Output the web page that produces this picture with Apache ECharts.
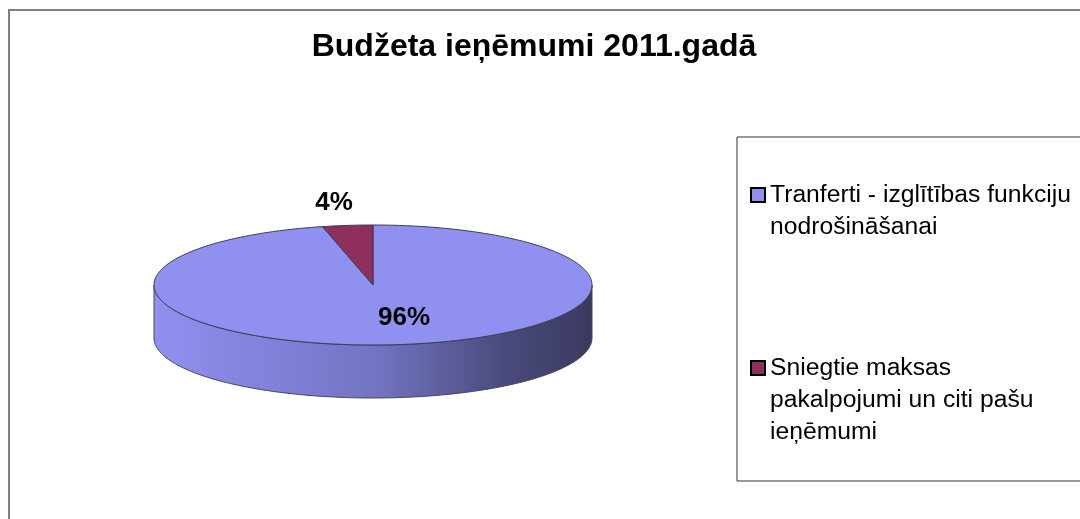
<!DOCTYPE html>
<html>
<head>
<meta charset="utf-8">
<style>
  html, body { margin: 0; padding: 0; background: #fff; }
  #chart { width: 1080px; height: 519px; }
</style>
<script src="https://cdn.jsdelivr.net/npm/echarts@6/dist/echarts.min.js"></script>
</head>
<body>
<div id="chart"></div>
<script>
const titleText = "Budžeta ieņēmumi 2011.gadā";
const sliceNames = [
  "Tranferti - izglītības funkciju nodrošināšanai",
  "Sniegtie maksas pakalpojumi un citi pašu ieņēmumi",
];
const sliceValues = [96.3, 3.7];
const sliceColors = ["#9090F0", "#8E2F5E"];
const legendLines = [
  ["Tranferti - izglītības funkciju", "nodrošināšanai"],
  ["Sniegtie maksas", "pakalpojumi un citi pašu", "ieņēmumi"],
];

const chart = echarts.init(document.getElementById("chart"));

// pie is an ellipse with a wall under it, the library pie can't squash
const pie = { cx: 373, cy: 285, rx: 219, ry: 60, depth: 53 };
const labelPos = [
  { x: 404, y: 318 },
  { x: 334, y: 203 },
];
const total = sliceValues.reduce((a, b) => a + b, 0);

// angle in degrees, clockwise from 12 o'clock
const ellipsePoint = (deg, dy) => {
  const a = (deg * Math.PI) / 180;
  return [pie.cx + pie.rx * Math.sin(a), pie.cy - pie.ry * Math.cos(a) + (dy || 0)];
};
const arc = (from, to, dy) => {
  const pts = [];
  const steps = Math.max(2, Math.ceil(Math.abs(to - from)));
  for (let i = 0; i <= steps; i++) {
    pts.push(ellipsePoint(from + ((to - from) * i) / steps, dy));
  }
  return pts;
};

const renderSlice = (index) => (params, api) => {
  const before = sliceValues.slice(0, index).reduce((a, b) => a + b, 0);
  const start = (before / total) * 360;
  const end = start + (api.value(0) / total) * 360;
  const children = [];
  const wallFrom = Math.max(start, 90);
  const wallTo = Math.min(end, 270);
  if (wallFrom < wallTo) {
    children.push({
      type: "polygon",
      shape: {
        points: arc(wallFrom, wallTo, 0).concat(arc(wallTo, wallFrom, pie.depth)),
      },
      style: {
        fill: new echarts.graphic.LinearGradient(0, 0, 1, 0, [
          { offset: 0, color: "#9090F0" },
          { offset: 0.5, color: "#7474C4" },
          { offset: 0.8, color: "#4A4A7C" },
          { offset: 1, color: "#3A3A60" },
        ]),
        stroke: "#44445C",
        lineWidth: 1,
      },
    });
  }
  children.push({
    type: "polygon",
    shape: { points: [[pie.cx, pie.cy]].concat(arc(start, end, 0)) },
    style: { fill: api.visual("color"), stroke: "#3A3A50", lineWidth: 1 },
  });
  children.push({
    type: "text",
    z2: 10,
    style: {
      x: labelPos[index].x,
      y: labelPos[index].y,
      text: Math.round((api.value(0) / total) * 100) + "%",
      font: "bold 26px 'Liberation Sans'",
      fill: "#000",
      align: "center",
      verticalAlign: "middle",
    },
  });
  return { type: "group", children };
};

chart.setOption({
  animation: false,
  title: {
    text: titleText,
    left: 529,
    top: 26,
    textAlign: "center",
    textStyle: {
      fontFamily: "Liberation Sans",
      fontSize: 32,
      fontWeight: "bold",
      color: "#000",
    },
  },
  legend: {
    orient: "vertical",
    left: 737,
    top: 137,
    padding: [10, 600, 33, 13],
    itemGap: 45,
    itemWidth: 14,
    itemHeight: 14,
    icon: "rect",
    borderColor: "#333",
    borderWidth: 1,
    data: sliceNames.map((name) => name),
    // blank lines on top keep the marker level with the first line
    formatter: (name) => {
      const lines = legendLines[sliceNames.indexOf(name)];
      return "\n".repeat(lines.length - 1) + lines.join("\n");
    },
    textStyle: {
      fontFamily: "Liberation Sans",
      fontSize: 24.7,
      lineHeight: 32,
      color: "#000",
    },
    itemStyle: { borderColor: "#000", borderWidth: 2 },
  },
  graphic: [
    {
      type: "rect",
      silent: true,
      shape: { x: 9, y: 10, width: 1300, height: 900 },
      style: { fill: "none", stroke: "#808080", lineWidth: 2 },
    },
  ],
  series: sliceNames.map((name, i) => ({
    type: "custom",
    name,
    coordinateSystem: "none",
    itemStyle: { color: sliceColors[i] },
    renderItem: renderSlice(i),
    data: [[sliceValues[i]]],
  })),
});

window.addEventListener("resize", () => {
  chart.resize();
});
</script>
</body>
</html>
